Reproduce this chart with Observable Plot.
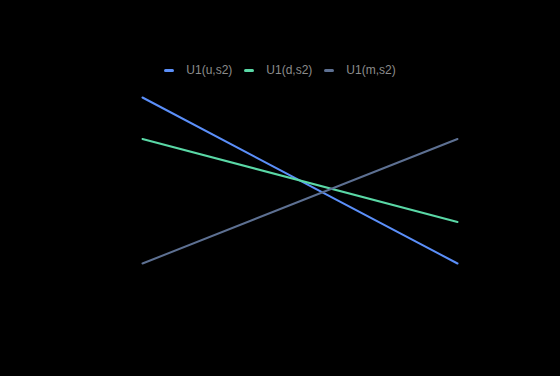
<!DOCTYPE html>
<html>
<head>
<meta charset="utf-8">
<script src="https://cdn.jsdelivr.net/npm/d3@7"></script>
<script src="https://cdn.jsdelivr.net/npm/@observablehq/plot@0.6"></script>
<style>
  html, body { margin: 0; padding: 0; background: #000; }
  #wrap { position: relative; width: 560px; height: 376px; background: #000; overflow: hidden; }
  #legend { position: absolute; top: 63px; left: 0; width: 560px; display: flex; justify-content: center; font-family: "Liberation Sans", Arial, sans-serif; font-size: 12px; color: #8c8c8c; }
  .item { display: flex; align-items: center; margin: 0 6px; }
  .sw { width: 10px; height: 3px; border-radius: 2px; margin-right: 12px; }
  .lab { white-space: nowrap; }
  svg { display: block; }
</style>
</head>
<body>
<div id="wrap"><div id="legend"></div></div>
<script>
const categories = ["x1", "x2"];
const seriesNames = ["U1(u,s2)", "U1(d,s2)", "U1(m,s2)"];
const uValues = [2, 0];
const dValues = [1.5, 0.5];
const mValues = [0, 1.5];
const colors = ["#5B8FF9", "#5AD8A6", "#5D7092"];

const seriesValues = [uValues, dValues, mValues];
const data = [];
seriesNames.forEach((s, i) => {
  categories.forEach((c, j) => data.push({ series: s, x: c, y: seriesValues[i][j] }));
});

const chart = Plot.plot({
  width: 560,
  height: 376,
  marginLeft: 142,
  marginRight: 103,
  marginTop: 97,
  marginBottom: 113,
  style: { background: "#000" },
  x: { type: "point", domain: categories, padding: 0, axis: null },
  y: { domain: [0, 2], axis: null },
  color: { domain: seriesNames, range: colors },
  marks: [
    Plot.line(data, { x: "x", y: "y", z: "series", stroke: "series", strokeWidth: 2 })
  ]
});
document.getElementById("wrap").appendChild(chart);

const legend = document.getElementById("legend");
seriesNames.forEach((s, i) => {
  const item = document.createElement("div");
  item.className = "item";
  const sw = document.createElement("span");
  sw.className = "sw";
  sw.style.background = colors[i];
  const lab = document.createElement("span");
  lab.className = "lab";
  lab.textContent = s;
  item.appendChild(sw);
  item.appendChild(lab);
  legend.appendChild(item);
});
</script>
</body>
</html>
